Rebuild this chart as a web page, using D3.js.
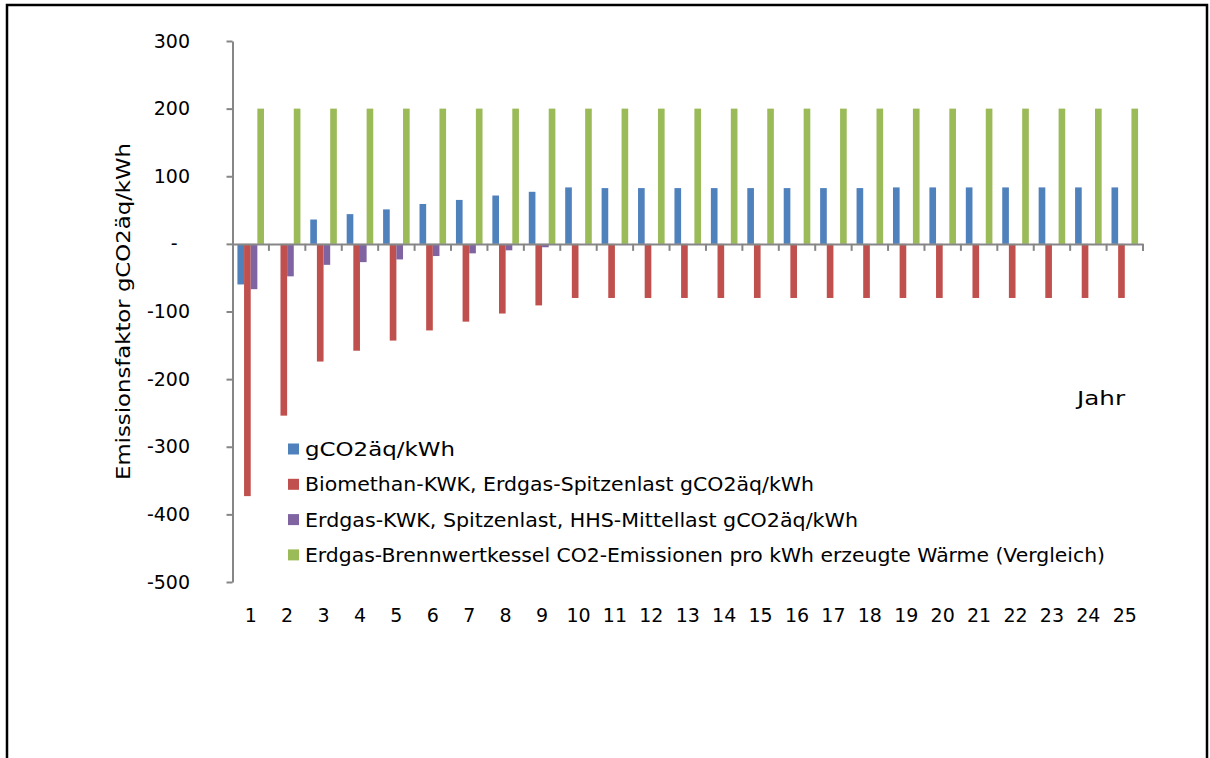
<!DOCTYPE html>
<html><head><meta charset="utf-8">
<script src="https://cdn.jsdelivr.net/npm/d3@7"></script>
<style>body{margin:0;background:#fff}svg{display:block}text{font-family:"DejaVu Sans",sans-serif;fill:#000}</style>
</head><body>
<svg id="c" width="1210" height="758"></svg>
<script>
const categories = ["1","2","3","4","5","6","7","8","9","10","11","12","13","14","15","16","17","18","19","20","21","22","23","24","25"];
const seriesNames = ["gCO2äq/kWh","Biomethan-KWK, Erdgas-Spitzenlast gCO2äq/kWh","Erdgas-KWK, Spitzenlast, HHS-Mittellast gCO2äq/kWh","Erdgas-Brennwertkessel CO2-Emissionen pro kWh erzeugte Wärme (Vergleich)"];
const blueVals = [-60,0,36,44,51,59,65,71.5,77,83.5,82.5,82.5,82.5,82.5,82.5,82.5,82.5,82.5,83.5,83.5,83.5,83.5,83.5,83.5,83.5];
const redVals = [-373,-254,-174,-158,-143,-128,-115,-103,-91,-80,-80,-80,-80,-80,-80,-80,-80,-80,-80,-80,-80,-80,-80,-80,-80];
const purpleVals = [-67,-48,-31,-27,-23,-18,-14,-9.5,-5,0,0,0,0,0,0,0,0,0,0,0,0,0,0,0,0];
const greenVals = [200,200,200,200,200,200,200,200,200,200,200,200,200,200,200,200,200,200,200,200,200,200,200,200,200];
const yTicks = [300,200,100,0,-100,-200,-300,-400,-500];
const colors = ["#4F81BD","#C0504D","#8064A2","#9BBB59"];
const seriesVals = [blueVals, redVals, purpleVals, greenVals];
const legendWidths = [150, 509, 553, 800];

const svg = d3.select("#c");
svg.append("rect").attr("x",7).attr("y",5).attr("width",1200).attr("height",800)
  .attr("fill","none").attr("stroke","#000").attr("stroke-width",2.5);

const y = d3.scaleLinear().domain([-500,300]).range([582,41]);
const x = d3.scaleBand().domain(categories).range([232.5,1143]).padding(0);
const inner = d3.scaleBand().domain(d3.range(4)).range([x.bandwidth()*0.135, x.bandwidth()*0.865]);

const axisColor = "#868686";
seriesVals.forEach((vals, si) => {
  svg.append("g").selectAll("rect").data(vals).join("rect")
    .attr("x",(d,i)=>x(categories[i])+inner(si))
    .attr("width",inner.bandwidth())
    .attr("y",d=>y(Math.max(0,d)))
    .attr("height",d=>Math.abs(y(d)-y(0)))
    .attr("fill",colors[si]);
});

// y axis
const yAxis = d3.axisLeft(y).tickValues(yTicks).tickSize(6).tickSizeOuter(0)
  .tickFormat(d=> d===0 ? "-" : d);
const gy = svg.append("g").attr("transform","translate(232.5,0)").call(yAxis);
gy.select(".domain").attr("stroke",axisColor).attr("stroke-width",2);
gy.selectAll(".tick line").attr("stroke",axisColor).attr("stroke-width",2);
gy.selectAll(".tick text").attr("x",d=>d===0?-55:-42.5).attr("font-size",19).attr("fill","#000")
  .style("font-family","DejaVu Sans");

// x axis at zero
const xAxis = d3.axisBottom(x).tickSize(0).tickFormat("");
const gx = svg.append("g").attr("transform",`translate(0,${y(0)})`).call(xAxis);
gx.select(".domain").attr("stroke",axisColor).attr("stroke-width",2);
const bounds = categories.map(c=>x(c)).concat([x(categories[categories.length-1])+x.bandwidth()]).slice(1);
svg.append("g").selectAll("line").data(bounds).join("line")
  .attr("x1",d=>d).attr("x2",d=>d).attr("y1",y(0)).attr("y2",y(0)+7)
  .attr("stroke",axisColor).attr("stroke-width",2);
svg.append("g").selectAll("text").data(categories).join("text")
  .attr("x",d=>x(d)+x.bandwidth()/2).attr("y",y(-500)+40)
  .attr("text-anchor","middle").attr("font-size",19).text(d=>d);

// axis titles
svg.append("text").attr("transform","translate(130,311.5) rotate(-90)")
  .attr("text-anchor","middle").attr("font-size",19)
  .attr("textLength",337).attr("lengthAdjust","spacingAndGlyphs")
  .text("Emissionsfaktor gCO2äq/kWh");
svg.append("text").attr("x",1101).attr("y",405).attr("text-anchor","middle")
  .attr("font-size",20).attr("textLength",48).attr("lengthAdjust","spacingAndGlyphs").text("Jahr");

// legend
const lg = svg.append("g");
seriesNames.forEach((n,i)=>{
  const cy = 449 + i*35.3;
  lg.append("rect").attr("x",288).attr("y",cy-5.5).attr("width",11).attr("height",11).attr("fill",colors[i]);
  lg.append("text").attr("x",305).attr("y",cy+7).attr("font-size",19)
    .attr("textLength",legendWidths[i]).attr("lengthAdjust","spacingAndGlyphs").text(n);
});
</script>
</body></html>
